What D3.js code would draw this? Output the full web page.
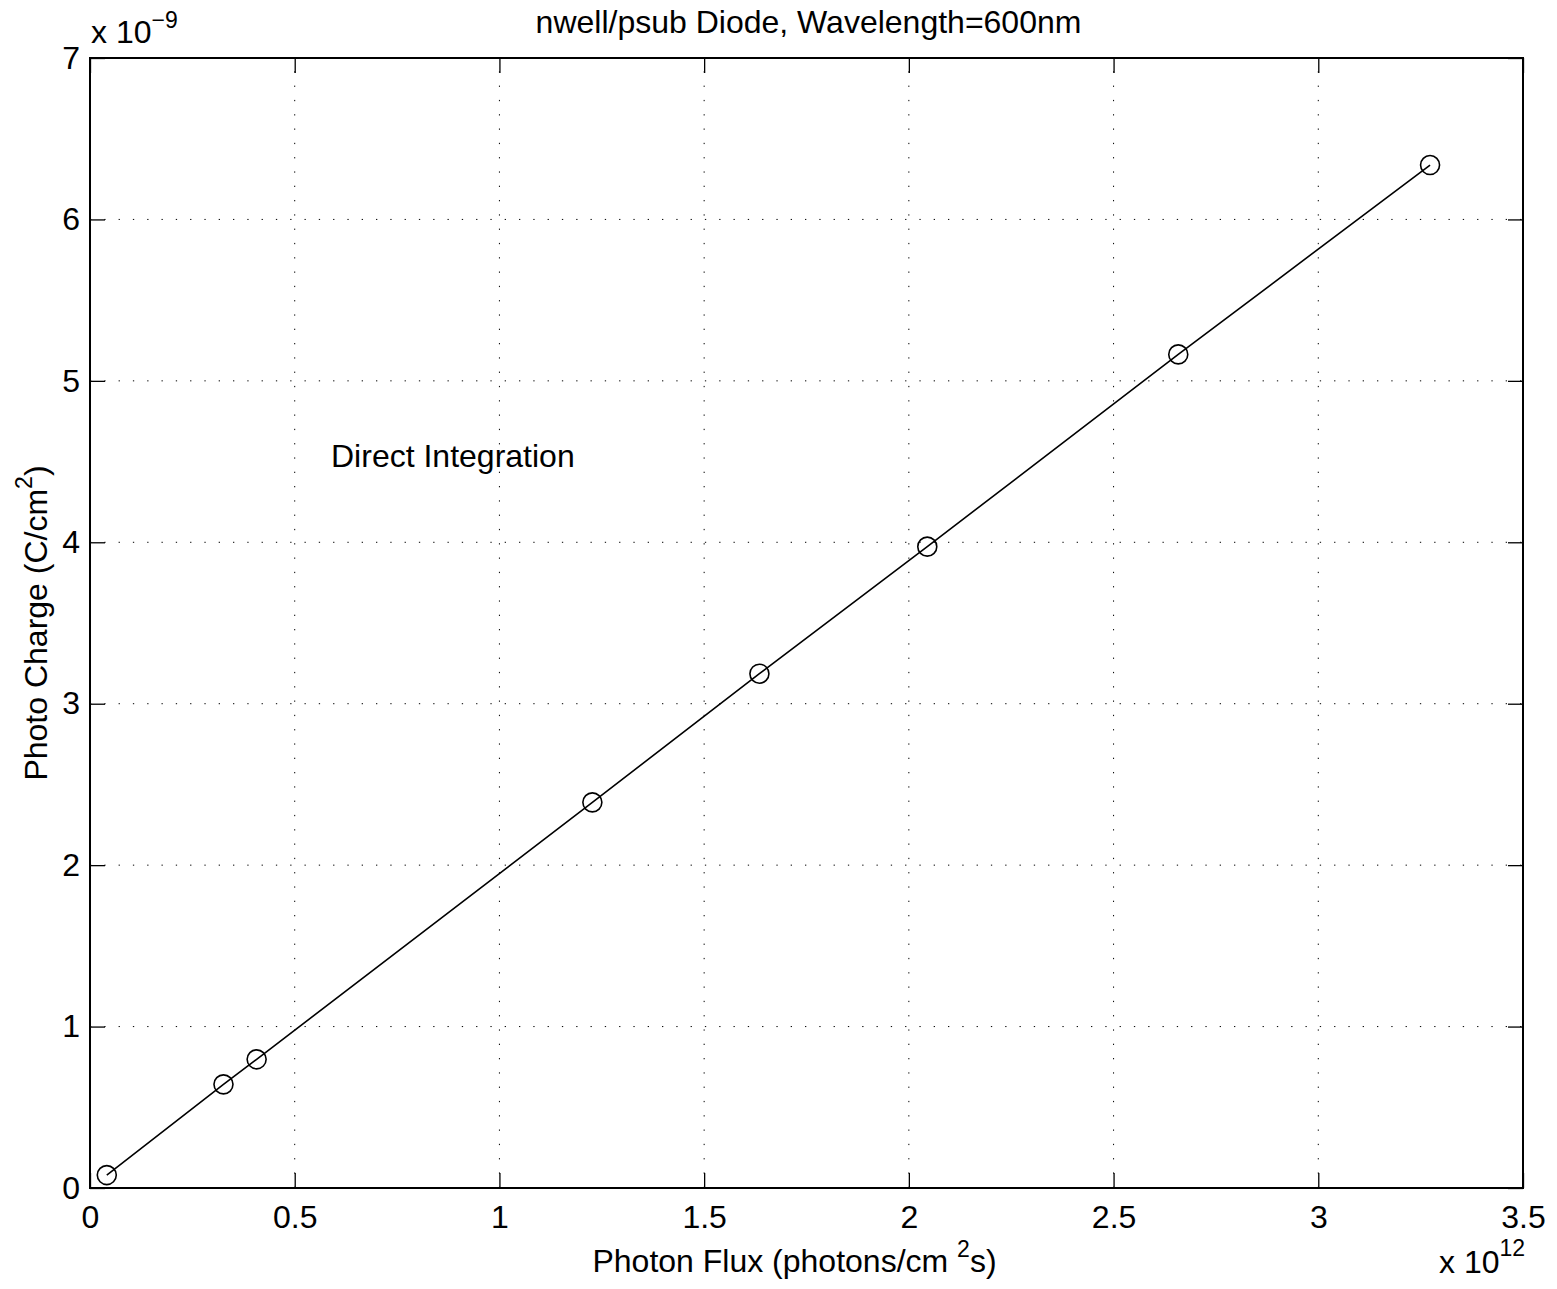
<!DOCTYPE html>
<html>
<head>
<meta charset="utf-8">
<script src="https://cdn.jsdelivr.net/npm/d3@7"></script>
<style>
  body { margin: 0; background: #fff; }
  text { font-family: "Liberation Sans", Arial, Helvetica, sans-serif; fill: #000; }
</style>
</head>
<body>
<div class="viewbox"></div>
<script>
// photon flux (x 1e12) and photo charge (x 1e-9)
const flux = [0.041, 0.326, 0.407, 1.227, 1.635, 2.045, 2.658, 3.273];
const charge = [0.080, 0.642, 0.797, 2.389, 3.186, 3.973, 5.164, 6.337];
const xTicks = [0, 0.5, 1, 1.5, 2, 2.5, 3, 3.5];
const yTicks = [0, 1, 2, 3, 4, 5, 6, 7];

const width = 1557, height = 1289;
const margin = { left: 90, right: 34, top: 58, bottom: 101 };
const fontSize = 32;
const supSize = 23;

const svg = d3.select(".viewbox").append("svg")
  .attr("width", width)
  .attr("height", height);

const x = d3.scaleLinear().domain([0, 3.5]).range([margin.left, width - margin.right]);
const y = d3.scaleLinear().domain([0, 7]).range([height - margin.bottom, margin.top]);

const x0 = x(0), x1 = x(3.5), y0 = y(0), y1 = y(7);
const tickLen = 15;

// dotted grid
svg.append("g").selectAll("line")
  .data(xTicks.filter(d => d > 0 && d < 3.5))
  .enter().append("line")
  .attr("x1", d => x(d)).attr("x2", d => x(d))
  .attr("y1", y0).attr("y2", y1)
  .attr("stroke", "#000").attr("stroke-width", 1)
  .attr("stroke-dasharray", "1.3,13");

svg.append("g").selectAll("line")
  .data(yTicks.filter(d => d > 0 && d < 7))
  .enter().append("line")
  .attr("x1", x0).attr("x2", x1)
  .attr("y1", d => y(d)).attr("y2", d => y(d))
  .attr("stroke", "#000").attr("stroke-width", 1)
  .attr("stroke-dasharray", "1.3,13");

// axes, ticks pointing inward on all four sides
const gxb = svg.append("g").attr("transform", `translate(0,${y0})`)
  .call(d3.axisBottom(x).tickValues(xTicks).tickSizeInner(-tickLen).tickSizeOuter(0)
    .tickFormat(d => d3.format("~g")(d)));
gxb.selectAll("text").attr("font-size", fontSize).attr("dy", "0.71em").attr("y", 17)
  .style("font-family", "Liberation Sans, Arial, sans-serif");

svg.append("g").attr("transform", `translate(0,${y1})`)
  .call(d3.axisTop(x).tickValues(xTicks).tickSizeInner(-tickLen).tickSizeOuter(0).tickFormat(""));

const gyl = svg.append("g").attr("transform", `translate(${x0},0)`)
  .call(d3.axisLeft(y).tickValues(yTicks).tickSizeInner(-tickLen).tickSizeOuter(0)
    .tickFormat(d3.format("d")));
gyl.selectAll("text").attr("font-size", fontSize).attr("x", -10)
  .style("font-family", "Liberation Sans, Arial, sans-serif");

svg.append("g").attr("transform", `translate(${x1},0)`)
  .call(d3.axisRight(y).tickValues(yTicks).tickSizeInner(-tickLen).tickSizeOuter(0).tickFormat(""));

svg.selectAll(".domain").remove();
svg.selectAll(".tick line").attr("stroke", "#000").attr("stroke-width", 1.3);

// frame
svg.append("rect")
  .attr("x", x0).attr("y", y1)
  .attr("width", x1 - x0).attr("height", y0 - y1)
  .attr("fill", "none").attr("stroke", "#000").attr("stroke-width", 2);

// data line + circle markers
const pts = flux.map((f, i) => [f, charge[i]]);
svg.append("path")
  .datum(pts)
  .attr("d", d3.line().x(d => x(d[0])).y(d => y(d[1])))
  .attr("fill", "none").attr("stroke", "#000").attr("stroke-width", 1.6);

svg.append("g").selectAll("circle")
  .data(pts)
  .enter().append("circle")
  .attr("cx", d => x(d[0])).attr("cy", d => y(d[1]))
  .attr("r", 9.5)
  .attr("fill", "none").attr("stroke", "#000").attr("stroke-width", 1.6);

// exponent labels
const ey = svg.append("text").attr("x", x0 + 1).attr("y", 43).attr("font-size", fontSize);
ey.append("tspan").text("x 10");
ey.append("tspan").attr("font-size", supSize).attr("dy", -15).text("\u22129");

const ex = svg.append("text").attr("x", x1 - 84).attr("y", 1273).attr("font-size", fontSize);
ex.append("tspan").text("x 10");
ex.append("tspan").attr("font-size", supSize).attr("dy", -17).text("12");

// title
svg.append("text")
  .attr("x", (x0 + x1) / 2 + 2).attr("y", 33)
  .attr("text-anchor", "middle").attr("font-size", fontSize)
  .text("nwell/psub Diode, Wavelength=600nm");

// x label
const xl = svg.append("text")
  .attr("x", (x0 + x1) / 2 - 12).attr("y", 1272)
  .attr("text-anchor", "middle").attr("font-size", fontSize);
xl.append("tspan").text("Photon Flux (photons/cm ");
xl.append("tspan").attr("font-size", supSize).attr("dy", -15).text("2");
xl.append("tspan").attr("dy", 15).text("s)");

// y label
const yl = svg.append("text")
  .attr("transform", `translate(47,${(y0 + y1) / 2}) rotate(-90)`)
  .attr("text-anchor", "middle").attr("font-size", fontSize);
yl.append("tspan").text("Photo Charge (C/cm");
yl.append("tspan").attr("font-size", supSize).attr("dy", -15).text("2");
yl.append("tspan").attr("dy", 15).text(")");

// annotation
svg.append("text")
  .attr("x", 331).attr("y", 467)
  .attr("font-size", fontSize)
  .text("Direct Integration");
</script>
</body>
</html>
